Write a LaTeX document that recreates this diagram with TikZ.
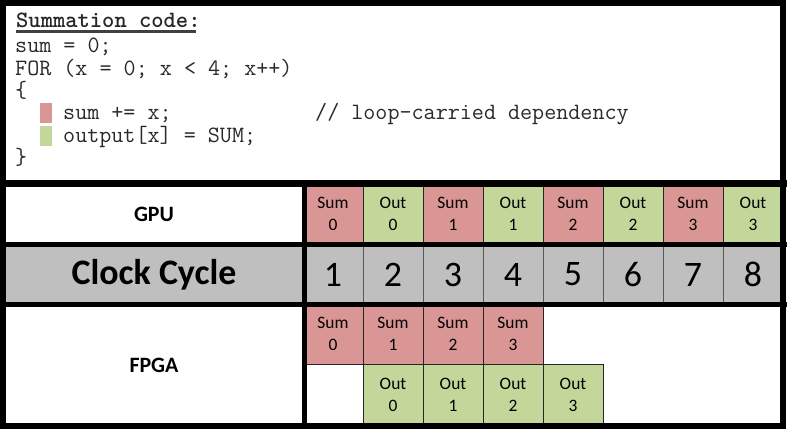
\documentclass[tikz,border=0pt]{standalone}
\usepackage{fontspec}
\setmainfont{Carlito}
\usepackage{tikz}

\definecolor{sumred}{HTML}{DA9694}
\definecolor{outgreen}{HTML}{C4D79B}
\definecolor{clockgrey}{HTML}{BFBFBF}
\definecolor{codegrey}{HTML}{2A2A2A}

\tikzset{
    codeline/.style={anchor=base west, inner sep=0pt, text=codegrey, font=\ttfamily\fontsize{23.5}{22}\selectfont},
    cell/.style={draw=black!85, line width=0.8bp, minimum width=60bp, inner sep=0pt, align=center, font=\fontsize{17.5}{22}\selectfont},
    sumcell/.style={cell, fill=sumred},
    outcell/.style={cell, fill=outgreen},
    clkcell/.style={draw=black!65, line width=0.8bp, minimum width=60bp, minimum height=60bp, inner sep=0pt, font=\fontsize{36}{36}\selectfont},
    rowlabel/.style={inner sep=0pt, font=\bfseries\fontsize{22}{24}\selectfont}
}

\begin{document}
\begin{tikzpicture}[x=1bp, y=-1bp]
        \useasboundingbox (0,0) rectangle (787,429);
        \fill[white] (0,0) rectangle (787,429);

        %code
        \node[codeline, text=black!85, font=\ttfamily\bfseries\fontsize{23.5}{22}\selectfont] (title) at (16,27) {Summation code:};
        \draw[line width=2.5bp, black!75] (16,31.5) -- (196,31.5);
        \node[codeline] (line1) at (15,52) {sum = 0;};
        \node[codeline] (line2) at (15,75) {FOR (x = 0; x < 4; x++)};
        \node[codeline] (line3) at (15,97) {\{};
        \fill[sumred] (40,103) rectangle (52,123);
        \node[codeline] (line4) at (63,119) {sum += x;};
        \node[codeline] (comment) at (315,119) {// loop-carried dependency};
        \fill[outgreen] (40,126) rectangle (52,146);
        \node[codeline] (line5) at (63,142) {output[x] = SUM;};
        \node[codeline] (line6) at (15,164) {\}};

        %gpu row
        \node[rowlabel] (gpu) at (154,214) {GPU};
        \node[sumcell, minimum height=61bp] (gpusum0) at (333,214) {Sum\\0};
        \node[outcell, minimum height=61bp] (gpuout0) at (393,214) {Out\\0};
        \node[sumcell, minimum height=61bp] (gpusum1) at (453,214) {Sum\\1};
        \node[outcell, minimum height=61bp] (gpuout1) at (513,214) {Out\\1};
        \node[sumcell, minimum height=61bp] (gpusum2) at (573,214) {Sum\\2};
        \node[outcell, minimum height=61bp] (gpuout2) at (633,214) {Out\\2};
        \node[sumcell, minimum height=61bp] (gpusum3) at (693,214) {Sum\\3};
        \node[outcell, minimum height=61bp] (gpuout3) at (753,214) {Out\\3};

        %clock row
        \fill[clockgrey] (3,244.5) rectangle (783,304.5);
        \node[inner sep=0pt, font=\bfseries\fontsize{36}{36}\selectfont] (clock) at (154,274.5) {Clock Cycle};
        \node[clkcell] (clk1) at (333,274.5) {1};
        \node[clkcell] (clk2) at (393,274.5) {2};
        \node[clkcell] (clk3) at (453,274.5) {3};
        \node[clkcell] (clk4) at (513,274.5) {4};
        \node[clkcell] (clk5) at (573,274.5) {5};
        \node[clkcell] (clk6) at (633,274.5) {6};
        \node[clkcell] (clk7) at (693,274.5) {7};
        \node[clkcell] (clk8) at (753,274.5) {8};

        %fpga row
        \node[rowlabel] (fpga) at (154,365) {FPGA};
        \node[sumcell, minimum height=59.5bp] (fpgasum0) at (333,334.25) {Sum\\0};
        \node[sumcell, minimum height=59.5bp] (fpgasum1) at (393,334.25) {Sum\\1};
        \node[sumcell, minimum height=59.5bp] (fpgasum2) at (453,334.25) {Sum\\2};
        \node[sumcell, minimum height=59.5bp] (fpgasum3) at (513,334.25) {Sum\\3};
        \node[cell, minimum height=61.5bp] (fpgaidle) at (333,394.75) {};
        \node[outcell, minimum height=61.5bp] (fpgaout0) at (393,394.75) {Out\\0};
        \node[outcell, minimum height=61.5bp] (fpgaout1) at (453,394.75) {Out\\1};
        \node[outcell, minimum height=61.5bp] (fpgaout2) at (513,394.75) {Out\\2};
        \node[outcell, minimum height=61.5bp] (fpgaout3) at (573,394.75) {Out\\3};

        %thick frame
        \draw[line width=6bp] (3,3) rectangle (783,426);
        \draw[line width=6.5bp] (0,183.5) -- (787,183.5);
        \draw[line width=5bp] (0,244.5) -- (787,244.5);
        \draw[line width=5bp] (0,304.5) -- (787,304.5);
        \draw[line width=5bp] (304,183.5) -- (304,426);
    \end{tikzpicture}
\end{document}
